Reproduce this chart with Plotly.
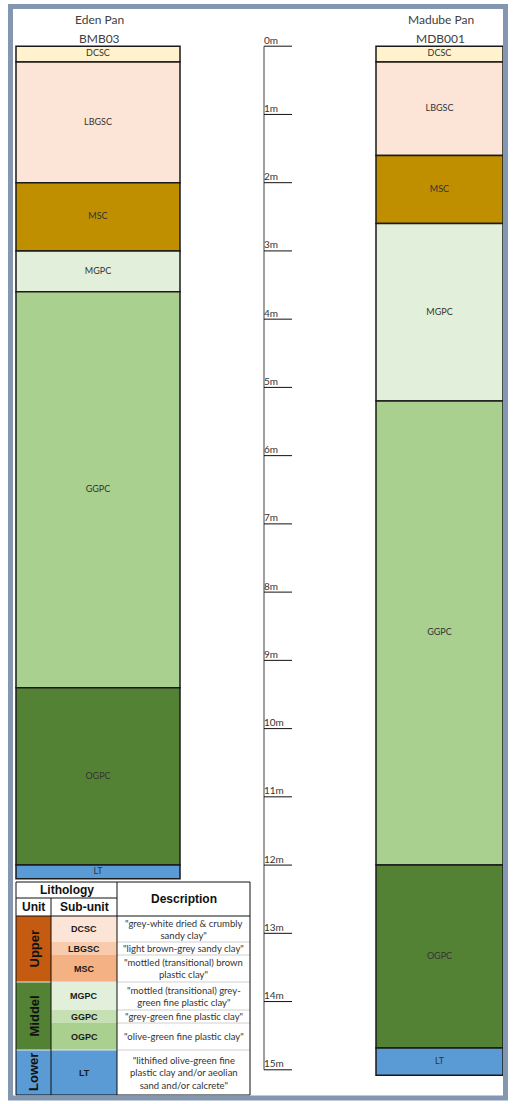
import plotly.graph_objects as go

# depth scale (m)
scale_depths = list(range(16))
scale_labels = [f"{d}m" for d in scale_depths]

# core logs: layer codes and boundary depths (m)
eden_name, eden_core = "Eden Pan", "BMB03"
eden_layers = ["DCSC", "LBGSC", "MSC", "MGPC", "GGPC", "OGPC", "LT"]
eden_bounds = [0, 0.23, 2.0, 3.0, 3.6, 9.4, 12.0, 12.2]

madube_name, madube_core = "Madube Pan", "MDB001"
madube_layers = ["DCSC", "LBGSC", "MSC", "MGPC", "GGPC", "OGPC", "LT"]
madube_bounds = [0, 0.23, 1.6, 2.6, 5.2, 12.0, 14.68, 15.08]

layer_colors = {
    "DCSC": "#FFF2CC", "LBGSC": "#FCE4D6", "MSC": "#BF8F00", "MGPC": "#E2EFDA",
    "GGPC": "#A9D08E", "OGPC": "#548235", "LT": "#5B9BD5",
}

# legend table
legend_units = ["Upper", "Middel", "Lower"]
legend_unit_rows = [3, 3, 1]
legend_unit_colors = ["#C55A11", "#548235", "#5B9BD5"]
legend_subunits = ["DCSC", "LBGSC", "MSC", "MGPC", "GGPC", "OGPC", "LT"]
legend_subunit_colors = ["#FCE4D6", "#F8CBAD", "#F4B183", "#E2EFDA", "#C6E0B4", "#A9D08E", "#5B9BD5"]
legend_desc = [
    '"grey-white dried & crumbly<br>sandy clay"',
    '"light brown-grey sandy clay"',
    '"mottled (transitional) brown<br>plastic clay"',
    '"mottled (transitional) grey-<br>green fine plastic clay"',
    '"grey-green fine plastic clay"',
    '"olive-green fine plastic clay"',
    '"lithified olive-green fine<br>plastic clay and/or aeolian<br>sand and/or calcrete"',
]

W, H = 513, 1104
PX_PER_M = 68.24   # vertical scale of the drawing
TOP_PX = 46.2      # pixel row of 0 m
BODY = "Lato, 'Open Sans', sans-serif"
ARIAL = "'Liberation Sans', Arial, sans-serif"


def py(px):
    # pixel row -> paper coordinate
    return 1 - px / H


def label(x, y, text, font, **kw):
    return dict(x=x, y=py(y), xref="x", yref="paper", text=text, showarrow=False,
                xanchor="center", yanchor="middle", font=font, **kw)


fig = go.Figure()


def add_log(layers, bounds, xc, width):
    tops = bounds[:-1]
    thick = [b - t for t, b in zip(bounds[:-1], bounds[1:])]
    fig.add_trace(go.Bar(
        x=[xc] * len(layers), y=thick, base=tops, width=width,
        marker=dict(color=[layer_colors[l] for l in layers],
                    line=dict(color="#1a1a1a", width=1.5)),
        hoverinfo="skip", showlegend=False,
    ))
    mids = [(t + b) / 2 for t, b in zip(bounds[:-1], bounds[1:])]
    fig.add_trace(go.Scatter(
        x=[xc] * len(layers), y=mids, text=layers, mode="text",
        textposition="middle center", textfont=dict(family=BODY, size=9, color="#333333"),
        hoverinfo="skip", showlegend=False,
    ))


add_log(eden_layers, eden_bounds, 98, 164)
add_log(madube_layers, madube_bounds, 439.5, 127)

# depth scale
fig.add_trace(go.Scatter(
    x=[264, 264], y=[scale_depths[0], scale_depths[-1]], mode="lines",
    line=dict(color="#7f7f7f", width=1.5), hoverinfo="skip", showlegend=False,
))
tx, ty = [], []
for d in scale_depths:
    tx += [264, 292, None]
    ty += [d, d, None]
fig.add_trace(go.Scatter(
    x=tx, y=ty, mode="lines", line=dict(color="#111111", width=1),
    hoverinfo="skip", showlegend=False,
))
fig.add_trace(go.Scatter(
    x=[264] * len(scale_depths), y=scale_depths, text=scale_labels, mode="text",
    textposition="top right", textfont=dict(family=BODY, size=10, color="#333333"),
    hoverinfo="skip", showlegend=False,
))

annotations = []
shapes = []

# column headers
head_font = dict(family=BODY, size=12, color="#404040")
for txt, xc, yc in [(eden_name, 99, 20), (eden_core, 99, 39),
                    (madube_name, 440.5, 20), (madube_core, 440, 39)]:
    annotations.append(label(xc, yc, txt, head_font))

# legend table
x0, x1, x2, x3 = 16, 51, 117, 250
row_edges = [916, 942, 955, 982, 1010, 1023, 1050, 1095]
for i, (sub, col, desc) in enumerate(zip(legend_subunits, legend_subunit_colors, legend_desc)):
    ya, yb = row_edges[i], row_edges[i + 1]
    shapes.append(dict(type="rect", xref="x", yref="paper", x0=x1, x1=x2, y0=py(ya), y1=py(yb),
                       fillcolor=col, line=dict(width=0), layer="below"))
    annotations.append(label((x1 + x2) / 2, (ya + yb) / 2, f"<b>{sub}</b>",
                             dict(family=ARIAL, size=9, color="#1a1a1a")))
    annotations.append(label((x2 + x3) / 2, (ya + yb) / 2, desc,
                             dict(family=BODY, size=9.5, color="#333333")))
    if i > 0:
        shapes.append(dict(type="line", xref="x", yref="paper", x0=x2, x1=x3, y0=py(ya), y1=py(ya),
                           line=dict(color="#d0d0d0", width=1)))

r = 0
for unit, n, col in zip(legend_units, legend_unit_rows, legend_unit_colors):
    ya, yb = row_edges[r], row_edges[r + n]
    shapes.append(dict(type="rect", xref="x", yref="paper", x0=x0, x1=x1, y0=py(ya), y1=py(yb),
                       fillcolor=col, line=dict(width=0), layer="below"))
    annotations.append(label((x0 + x1) / 2, (ya + yb) / 2, f"<b>{unit}</b>",
                             dict(family=ARIAL, size=13, color="#111111"), textangle=-90))
    if r > 0:
        shapes.append(dict(type="line", xref="x", yref="paper", x0=x0, x1=x2, y0=py(ya), y1=py(ya),
                           line=dict(color="#e8e8e8", width=1)))
    r += n

for a, b, c, d in [(x0, 898, x2, 898), (x0, 916, x3, 916), (x1, 898, x1, 1095), (x2, 882, x2, 1095)]:
    shapes.append(dict(type="line", xref="x", yref="paper", x0=a, x1=c, y0=py(b), y1=py(d),
                       line=dict(color="#111111", width=1)))
shapes.append(dict(type="rect", xref="x", yref="paper", x0=x0, x1=x3, y0=py(882), y1=py(1095),
                   line=dict(color="#111111", width=1)))

hdr = dict(family=ARIAL, size=12, color="#111111")
annotations.append(label((x0 + x2) / 2, 890, "<b>Lithology</b>", hdr))
annotations.append(label((x0 + x1) / 2, 907, "<b>Unit</b>", hdr))
annotations.append(label((x1 + x2) / 2, 907, "<b>Sub-unit</b>", hdr))
annotations.append(label((x2 + x3) / 2, 899, "<b>Description</b>", hdr))

# outer frame
shapes.append(dict(type="rect", xref="x", yref="paper", x0=10.5, x1=505.5, y0=py(6.5), y1=py(1098),
                   line=dict(color="#8497B0", width=5)))

fig.update_layout(
    width=W, height=H, autosize=False,
    margin=dict(l=0, r=0, t=0, b=0),
    paper_bgcolor="white", plot_bgcolor="white",
    barmode="overlay", showlegend=False,
    xaxis=dict(range=[0, W], visible=False, fixedrange=True),
    yaxis=dict(range=[(H - TOP_PX) / PX_PER_M, -TOP_PX / PX_PER_M], visible=False, fixedrange=True),
    shapes=shapes, annotations=annotations,
)

fig.write_html("out.html", config={"displayModeBar": False},
               post_script="document.body.style.margin='0';")
